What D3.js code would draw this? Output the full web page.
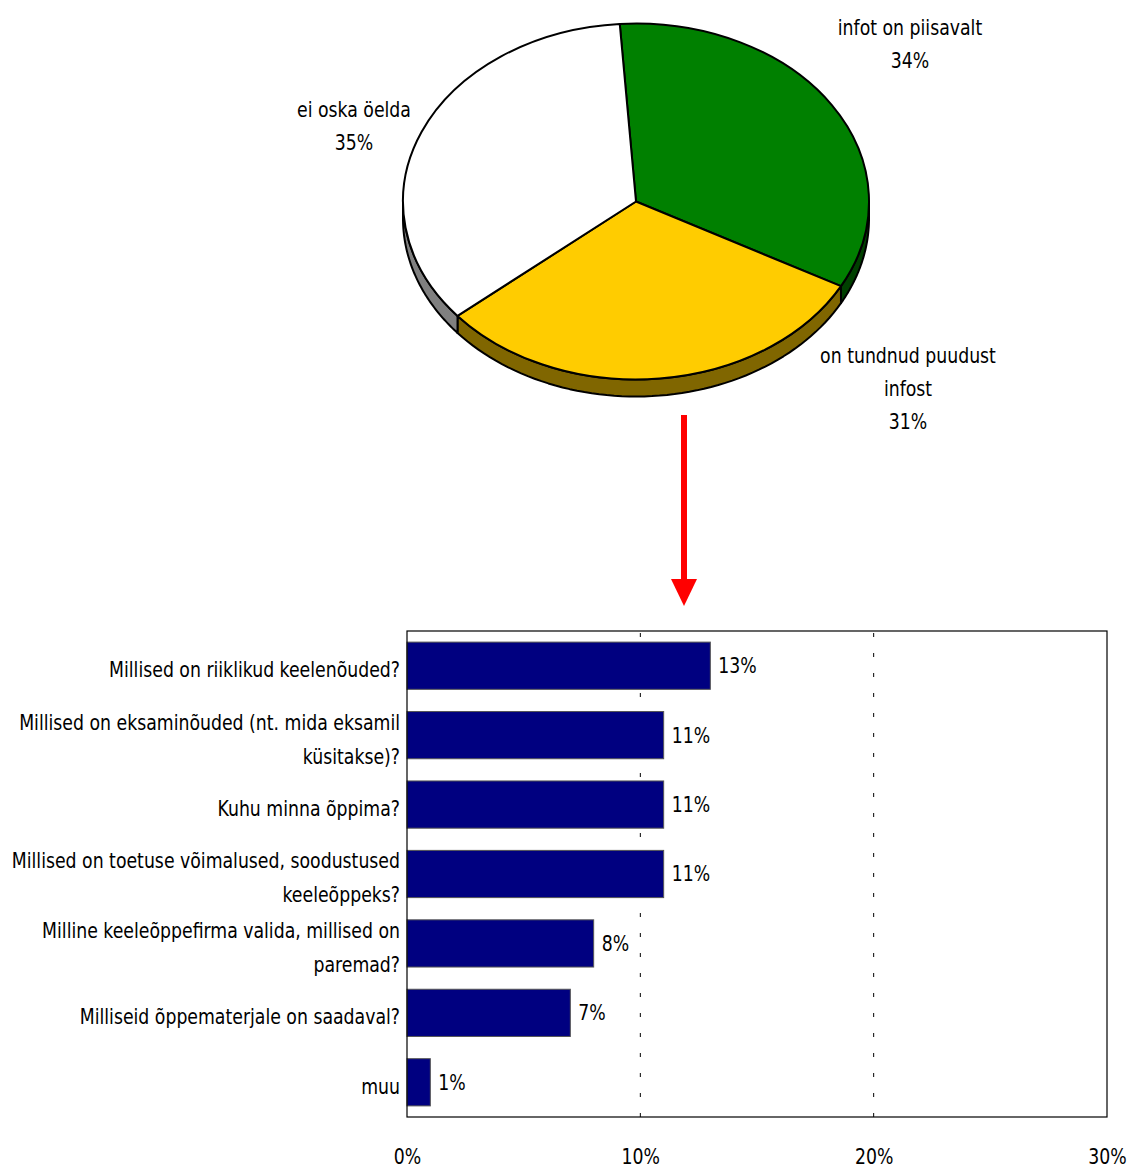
<!DOCTYPE html>
<html><head><meta charset="utf-8">
<script src="https://cdn.jsdelivr.net/npm/d3@7"></script>
<style>
body{margin:0;background:#fff;}
text{font-family:"DejaVu Sans Condensed","DejaVu Sans",sans-serif;fill:#000;}
</style></head>
<body><svg id="c" width="1130" height="1169"></svg>
<script>
// ---- data ----
const pieLabels = [["infot on piisavalt"], ["on tundnud puudust", "infost"], ["ei oska öelda"]];
const pieValues = [34, 31, 35];
const pieColors = ["#008000", "#ffcc00", "#ffffff"];
const pieSideColors = ["#004000", "#806600", "#808080"];

const categories = [
  "Millised on riiklikud keelenõuded?",
  "Millised on eksaminõuded (nt. mida eksamil\nküsitakse)?",
  "Kuhu minna õppima?",
  "Millised on toetuse võimalused, soodustused\nkeeleõppeks?",
  "Milline keeleõppefirma valida, millised on\nparemad?",
  "Milliseid õppematerjale on saadaval?",
  "muu"
];
const barValues = [13, 11, 11, 11, 8, 7, 1];
const xTicks = [0, 10, 20, 30];

const svg = d3.select("#c");
const FS = 22;

// horizontal compression factor so the text matches the narrow font of the reference
const probe = svg.append("text").attr("font-size", FS).text("Millised on riiklikud keelenõuded?");
const SX = 291 / probe.node().getComputedTextLength();
probe.remove();
function squeeze(t, ax) {
  t.attr("transform", `translate(${ax},0) scale(${SX},1) translate(${-ax},0)`);
}

// ---- pie ----
const cx = 636, cy = 201.5, rx = 233, ry = 178, depth = 17;
const ky = ry / rx;
const pie = d3.pie().sort(null).value(d => d).startAngle(-4 * Math.PI / 180).endAngle(2 * Math.PI - 4 * Math.PI / 180);
const arcs = pie(pieValues);
const pg = svg.append("g").attr("transform", `translate(${cx},${cy}) scale(1,${ky})`);
const line = d3.line();
arcs.forEach((a, i) => {
  const a0 = Math.max(a.startAngle, Math.PI / 2), a1 = Math.min(a.endAngle, 3 * Math.PI / 2);
  if (a1 <= a0) return;
  const n = 60, top = [], bot = [];
  for (let k = 0; k <= n; k++) {
    const t = a0 + (a1 - a0) * k / n;
    top.push([rx * Math.sin(t), -rx * Math.cos(t)]);
    bot.push([rx * Math.sin(t), -rx * Math.cos(t) + depth / ky]);
  }
  pg.append("path").attr("d", line(top.concat(bot.reverse())) + "Z")
    .attr("fill", pieSideColors[i]).attr("stroke", "#000").attr("stroke-width", 2)
    .attr("vector-effect", "non-scaling-stroke").attr("stroke-linejoin", "round");
});
const arcGen = d3.arc().innerRadius(0).outerRadius(rx);
pg.selectAll("path.slice").data(arcs).join("path").attr("class", "slice")
  .attr("d", arcGen).attr("fill", (d, i) => pieColors[i])
  .attr("stroke", "#000").attr("stroke-width", 2).attr("vector-effect", "non-scaling-stroke")
  .attr("stroke-linejoin", "round");

// pie labels
const labelPos = [[910, 28], [908, 356], [354, 110]];
arcs.forEach((a, i) => {
  const lines = pieLabels[i].concat([pieValues[i] + "%"]);
  const t = svg.append("text").attr("text-anchor", "middle").attr("font-size", FS);
  lines.forEach((l, j) => t.append("tspan").attr("x", labelPos[i][0]).attr("y", labelPos[i][1] + j * 33)
    .attr("dominant-baseline", "central").text(l));
  squeeze(t, labelPos[i][0]);
});

// ---- arrow ----
svg.append("line").attr("x1", 684).attr("x2", 684).attr("y1", 415).attr("y2", 582)
  .attr("stroke", "#ff0000").attr("stroke-width", 6);
svg.append("path").attr("d", "M671,579 L697,579 L684,606 Z").attr("fill", "#ff0000");

// ---- bar chart ----
const L = 407, R = 1107, T = 631, B = 1117;
const x = d3.scaleLinear().domain([0, 30]).range([L, R]);
const y = d3.scaleBand().domain(categories).range([T, B]).paddingInner(0.32).paddingOuter(0.16);

svg.append("g").selectAll("line").data(xTicks.filter(t => t > 0 && t < 30)).join("line")
  .attr("x1", d => x(d)).attr("x2", d => x(d)).attr("y1", T).attr("y2", B)
  .attr("stroke", "#000").attr("stroke-width", 1).attr("stroke-dasharray", "4,16").attr("stroke-dashoffset", -2);

svg.append("g").selectAll("rect").data(categories).join("rect")
  .attr("x", x(0)).attr("y", d => y(d)).attr("width", (d, i) => x(barValues[i]) - x(0))
  .attr("height", y.bandwidth()).attr("fill", "#000080").attr("stroke", "#555").attr("stroke-width", 1);

svg.append("rect").attr("x", L).attr("y", T).attr("width", R - L).attr("height", B - T)
  .attr("fill", "none").attr("stroke", "#000").attr("stroke-width", 1.2);

// value labels
categories.forEach((c, i) => {
  const ax = x(barValues[i]) + 8;
  const t = svg.append("text").attr("x", ax).attr("y", y(c) + y.bandwidth() / 2)
    .attr("dominant-baseline", "central").attr("font-size", FS).text(barValues[i] + "%");
  squeeze(t, ax);
});

// category labels
categories.forEach(c => {
  const lines = c.split("\n");
  const yc = y(c) + y.bandwidth() / 2 + 4;
  const t = svg.append("text").attr("text-anchor", "end").attr("font-size", FS);
  lines.forEach((l, j) => t.append("tspan").attr("x", 400).attr("y", yc + (j - (lines.length - 1) / 2) * 34)
    .attr("dominant-baseline", "central").text(l));
  squeeze(t, 400);
});

// x tick labels
const xAxis = d3.axisBottom(x).tickValues(xTicks).tickFormat(d => d + "%").tickSize(0).tickPadding(0);
const ax = svg.append("g").attr("transform", `translate(0,${B})`).call(xAxis);
ax.select(".domain").remove();
ax.selectAll("text").attr("font-size", FS).attr("dy", null).attr("y", 40).attr("x", 0)
  .attr("dominant-baseline", "central").attr("font-family", null)
  .attr("transform", `scale(${SX},1)`);
</script></body></html>
